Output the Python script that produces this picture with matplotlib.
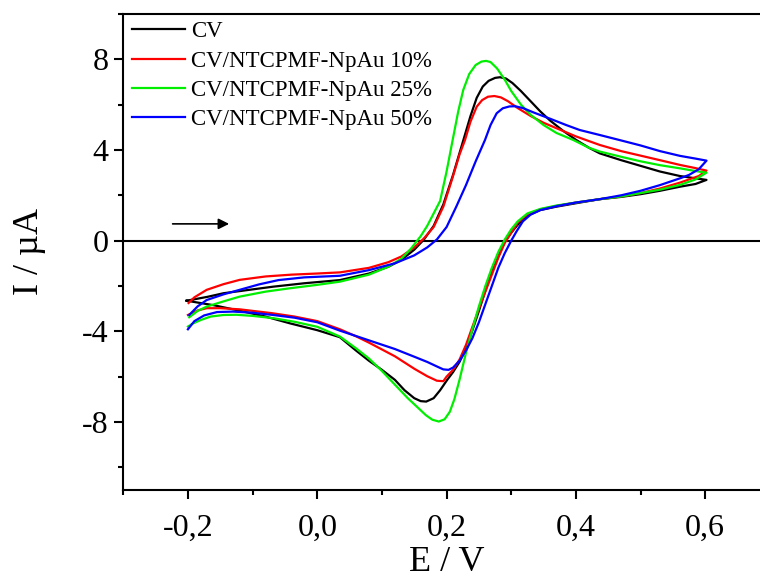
import numpy as np
import matplotlib
matplotlib.use('Agg')
from matplotlib import pyplot as plt
from matplotlib.ticker import MultipleLocator, FuncFormatter

plt.rcParams['font.family'] = ['Liberation Serif', 'DejaVu Serif']
plt.rcParams['axes.unicode_minus'] = False

labels = ['CV', 'CV/NTCPMF-NpAu 10%', 'CV/NTCPMF-NpAu 25%', 'CV/NTCPMF-NpAu 50%']
colors = ['black', '#ff0000', '#00ee00', '#0000ff']

# potential (V) and current (uA), forward scan then reverse scan
e_cv = [-0.202, -0.17, -0.145, -0.10, -0.068, -0.02, 0.035, 0.08, 0.11, 0.13, 0.15, 0.165, 0.18, 0.195,
        0.21, 0.226, 0.237, 0.2466, 0.256, 0.265, 0.275, 0.2826, 0.292, 0.302, 0.315, 0.33, 0.345, 0.36,
        0.38, 0.40, 0.42, 0.437, 0.47, 0.50, 0.53, 0.561, 0.585, 0.602,
        0.585, 0.561, 0.53, 0.50, 0.47, 0.437, 0.40, 0.37, 0.345, 0.325, 0.31, 0.30, 0.29, 0.28, 0.27,
        0.26, 0.25, 0.24, 0.23, 0.22, 0.21, 0.201, 0.19, 0.18, 0.1685, 0.16, 0.15, 0.135, 0.12, 0.10,
        0.08, 0.06, 0.035, 0.0, -0.042, -0.08, -0.12, -0.16, -0.202]
i_cv = [-2.65, -2.48, -2.32, -2.15, -2.03, -1.88, -1.74, -1.45, -1.15, -0.85, -0.4, 0.05, 0.65, 1.6,
        2.9, 4.44, 5.5, 6.3, 6.8, 7.05, 7.18, 7.21, 7.15, 6.95, 6.6, 6.15, 5.7, 5.3,
        4.85, 4.45, 4.1, 3.85, 3.55, 3.3, 3.05, 2.85, 2.75, 2.68,
        2.5, 2.38, 2.2, 2.05, 1.93, 1.83, 1.65, 1.5, 1.35, 1.1, 0.7, 0.35, -0.05, -0.7, -1.4,
        -2.2, -3.1, -3.95, -4.75, -5.35, -5.8, -6.14, -6.6, -6.95, -7.1, -7.08, -6.95, -6.6, -6.14, -5.7,
        -5.3, -4.85, -4.26, -3.95, -3.65, -3.35, -3.09, -2.85, -2.65]

e_10 = [-0.199, -0.19, -0.171, -0.145, -0.12, -0.08, -0.04, 0.0, 0.035, 0.08, 0.11, 0.13, 0.15, 0.165,
        0.18, 0.195, 0.21, 0.22, 0.2285, 0.237, 0.2466, 0.255, 0.264, 0.274, 0.284, 0.295, 0.31, 0.33,
        0.35, 0.375, 0.40, 0.437, 0.47, 0.50, 0.53, 0.561, 0.585, 0.602,
        0.59, 0.561, 0.53, 0.50, 0.47, 0.437, 0.40, 0.37, 0.345, 0.325, 0.31, 0.30, 0.29, 0.28, 0.27,
        0.26, 0.25, 0.24, 0.23, 0.22, 0.21, 0.20, 0.195, 0.185, 0.17, 0.15, 0.12, 0.10, 0.08, 0.06,
        0.035, 0.0, -0.035, -0.07, -0.12, -0.15, -0.171, -0.185, -0.2]
i_10 = [-2.75, -2.5, -2.17, -1.92, -1.73, -1.58, -1.5, -1.45, -1.4, -1.2, -0.95, -0.7, -0.3, 0.1,
        0.6, 1.5, 2.85, 3.8, 4.44, 5.25, 5.91, 6.2, 6.35, 6.38, 6.32, 6.15, 5.85, 5.5,
        5.2, 4.9, 4.6, 4.22, 3.95, 3.75, 3.55, 3.34, 3.2, 3.09,
        2.85, 2.56, 2.3, 2.1, 1.95, 1.83, 1.68, 1.53, 1.38, 1.15, 0.8, 0.35, -0.1, -0.75, -1.5,
        -2.25, -3.0, -3.8, -4.6, -5.25, -5.7, -6.0, -6.2, -6.18, -5.98, -5.65, -5.1, -4.8, -4.5, -4.22,
        -3.91, -3.55, -3.35, -3.2, -3.03, -2.98, -2.98, -3.08, -3.28]

e_25 = [-0.198, -0.185, -0.171, -0.145, -0.12, -0.08, -0.042, 0.0, 0.035, 0.08, 0.11, 0.13, 0.145, 0.16,
        0.17, 0.18, 0.19, 0.20, 0.2094, 0.218, 0.2258, 0.235, 0.245, 0.254, 0.261, 0.268, 0.278, 0.29,
        0.30, 0.315, 0.33, 0.35, 0.37, 0.396, 0.42, 0.437, 0.47, 0.50, 0.53, 0.561, 0.585, 0.602,
        0.585, 0.561, 0.53, 0.50, 0.47, 0.437, 0.40, 0.37, 0.345, 0.325, 0.31, 0.30, 0.29, 0.28, 0.27,
        0.26, 0.25, 0.24, 0.23, 0.22, 0.212, 0.205, 0.197, 0.188, 0.178, 0.168, 0.155, 0.14, 0.12, 0.10,
        0.08, 0.06, 0.035, 0.0, -0.035, -0.068, -0.1, -0.125, -0.145, -0.165, -0.18, -0.192, -0.2]
i_25 = [-3.38, -3.1, -2.91, -2.68, -2.47, -2.25, -2.1, -1.95, -1.81, -1.5, -1.15, -0.8, -0.35, 0.2,
        0.65, 1.2, 1.75, 3.05, 4.44, 5.7, 6.65, 7.35, 7.75, 7.9, 7.93, 7.88, 7.6, 7.1,
        6.6, 6.0, 5.55, 5.1, 4.75, 4.44, 4.1, 3.93, 3.7, 3.5, 3.33, 3.19, 3.07, 3.0,
        2.7, 2.46, 2.25, 2.1, 1.95, 1.83, 1.68, 1.55, 1.4, 1.2, 0.85, 0.5, 0.05, -0.5, -1.2,
        -2.0, -2.9, -3.9, -4.95, -6.14, -7.0, -7.55, -7.88, -7.98, -7.9, -7.7, -7.35, -6.95, -6.35, -5.75,
        -5.2, -4.75, -4.23, -3.8, -3.58, -3.42, -3.32, -3.27, -3.28, -3.35, -3.5, -3.65, -3.79]

e_50 = [-0.198, -0.185, -0.171, -0.145, -0.12, -0.09, -0.06, -0.02, 0.035, 0.08, 0.12, 0.15, 0.17, 0.185,
        0.20, 0.215, 0.23, 0.245, 0.2594, 0.268, 0.2775, 0.287, 0.297, 0.306, 0.318, 0.335, 0.36, 0.385,
        0.406, 0.437, 0.47, 0.50, 0.53, 0.561, 0.585, 0.602,
        0.59, 0.575, 0.561, 0.53, 0.50, 0.47, 0.437, 0.40, 0.37, 0.345, 0.33, 0.318, 0.308, 0.30, 0.29,
        0.28, 0.27, 0.26, 0.25, 0.24, 0.23, 0.22, 0.21, 0.203, 0.195, 0.185, 0.17, 0.15, 0.12, 0.08,
        0.035, 0.0, -0.035, -0.068, -0.1, -0.13, -0.155, -0.175, -0.19, -0.2]
i_50 = [-3.28, -2.9, -2.62, -2.37, -2.17, -1.93, -1.74, -1.62, -1.55, -1.3, -1.0, -0.65, -0.3, 0.05,
        0.6, 1.5, 2.45, 3.5, 4.44, 5.1, 5.62, 5.84, 5.92, 5.93, 5.85, 5.65, 5.38, 5.1,
        4.88, 4.66, 4.42, 4.2, 3.95, 3.74, 3.62, 3.53,
        3.15, 2.9, 2.75, 2.45, 2.2, 2.0, 1.83, 1.68, 1.52, 1.35, 1.15, 0.85, 0.4, 0.0, -0.55,
        -1.2, -2.0, -2.8, -3.6, -4.3, -4.85, -5.3, -5.6, -5.7, -5.68, -5.55, -5.35, -5.12, -4.78, -4.4,
        -3.97, -3.6, -3.4, -3.28, -3.18, -3.13, -3.15, -3.3, -3.55, -3.91]

fig = plt.figure(figsize=(7.6, 5.8), dpi=100)
# right spine sits just past the figure edge
ax = fig.add_axes([0.1622, 0.1552, 0.8508, 0.8207])

ax.axhline(0, color='black', lw=1.5, zorder=1)
for e, i, c, lab in zip([e_cv, e_10, e_25, e_50], [i_cv, i_10, i_25, i_50], colors, labels):
    ax.plot(e, i, color=c, lw=1.6, label=lab, zorder=2)

# scan direction
ax.annotate('', xy=(-0.132, 0.74), xytext=(-0.228, 0.74),
            arrowprops=dict(arrowstyle='-|>', color='black', lw=1.2, mutation_scale=16))

ax.set_xlim(-0.3, 0.7)
ax.set_ylim(-11, 10)
ax.xaxis.set_major_locator(MultipleLocator(0.2))
ax.xaxis.set_minor_locator(MultipleLocator(0.1))
ax.yaxis.set_major_locator(MultipleLocator(4))
ax.yaxis.set_minor_locator(MultipleLocator(2))
ax.xaxis.set_major_formatter(FuncFormatter(lambda v, p: f'{v:.1f}'.replace('.', ',').replace('-0,0', '0,0')))
ax.yaxis.set_major_formatter(FuncFormatter(lambda v, p: f'{v:.0f}'))

for s in ax.spines.values():
    s.set_linewidth(1.5)
ax.tick_params(which='major', direction='out', length=6.5, width=1.5, labelsize=23, pad=4)
ax.tick_params(which='minor', direction='out', length=3.5, width=1.5)
ax.tick_params(axis='x', which='major', pad=11)

ax.set_xlabel('E / V', fontsize=26, labelpad=2)
ax.set_ylabel('I / µA', fontsize=26, labelpad=26)

ax.legend(loc='upper left', frameon=False, fontsize=16.5, handlelength=2.3, handletextpad=0.25,
          labelspacing=0.36, borderaxespad=0.0, bbox_to_anchor=(0.0, 1.004))

fig.savefig('out.png', dpi=100)
